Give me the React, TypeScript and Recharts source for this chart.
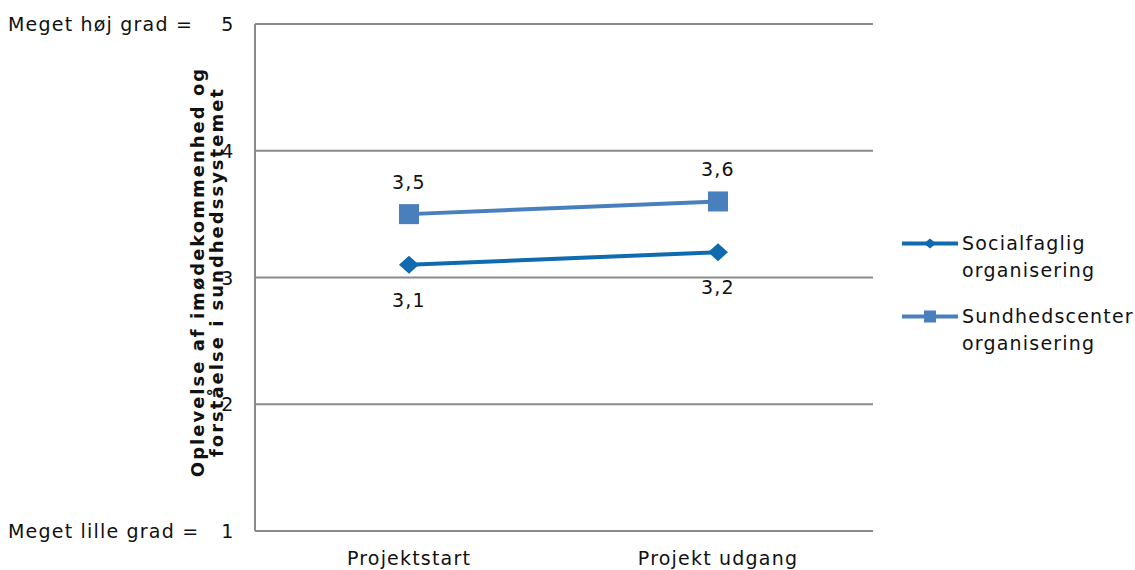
import { LineChart, Line, XAxis, YAxis, CartesianGrid, Legend, LabelList } from "recharts"

const categories = ["Projektstart", "Projekt udgang"]
const socialfaglig = [3.1, 3.2]
const sundhedscenter = [3.5, 3.6]
const yTicks = [1, 2, 3, 4, 5]
const tickPrefix: Record<number, string> = { 5: "Meget høj grad =", 1: "Meget lille grad =" }
const legendLines = [
  ["Socialfaglig", "organisering"],
  ["Sundhedscenter", "organisering"],
]
const axisTitle = ["Oplevelse af imødekommenhed og", "forståelse i sundhedssystemet"]

const data = categories.map((name, i) => ({
  name,
  social: socialfaglig[i],
  sundhed: sundhedscenter[i],
}))

const DARK = "#0F6BAE"
const LIGHT = "#4A7FBE"
const GRID = "#8A8A8A"
const FONT = "'DejaVu Sans', Verdana, sans-serif"
const textStyle = { fontFamily: FONT, fontSize: 19, letterSpacing: 1.2, fill: "#111" }

const fmt = (v: number) => String(v).replace(".", ",")

const YTick = (props: any) => {
  const { y, payload } = props
  const prefix = tickPrefix[payload.value]
  return (
    <g>
      {prefix && (
        <text x={8} y={y} dominantBaseline="central" textAnchor="start" style={textStyle}>
          {prefix}
        </text>
      )}
      <text x={228} y={y} dominantBaseline="central" textAnchor="middle" style={textStyle}>
        {payload.value}
      </text>
    </g>
  )
}

const XTick = (props: any) => {
  const { x, payload } = props
  return (
    <text x={x} y={558} dominantBaseline="central" textAnchor="middle" style={textStyle}>
      {payload.value}
    </text>
  )
}

const Title = () => (
  <text
    transform="rotate(-90, 206, 272)"
    x={206}
    y={272}
    textAnchor="middle"
    style={{ fontFamily: FONT, fontSize: 18, fontWeight: "bold", letterSpacing: 2, fill: "#111" }}
  >
    <tspan x={206} dy={-9} dominantBaseline="central">{axisTitle[0]}</tspan>
    <tspan x={206} dy={19} dominantBaseline="central">{axisTitle[1]}</tspan>
  </text>
)

const Diamond = (props: any) => {
  const { cx, cy } = props
  if (cx == null || cy == null) return <g key={props.index} />
  return (
    <path
      key={props.index}
      d={`M${cx - 10},${cy} L${cx},${cy - 9} L${cx + 10},${cy} L${cx},${cy + 9} Z`}
      fill={DARK}
    />
  )
}

const Square = (props: any) => {
  const { cx, cy } = props
  if (cx == null || cy == null) return <g key={props.index} />
  return <rect key={props.index} x={cx - 10} y={cy - 10} width={20} height={20} fill={LIGHT} />
}

const labelAbove = (props: any) => (
  <text x={props.x} y={props.y - 32} textAnchor="middle" dominantBaseline="central" style={textStyle}>
    {fmt(props.value)}
  </text>
)

const labelBelow = (props: any) => (
  <text x={props.x} y={props.y + 35} textAnchor="middle" dominantBaseline="central" style={textStyle}>
    {fmt(props.value)}
  </text>
)

const LegendContent = () => (
  <div style={{ fontFamily: FONT, fontSize: 19, letterSpacing: 1.2, color: "#111", lineHeight: "27px" }}>
    {legendLines.map((lines, i) => (
      <div key={i} style={{ display: "flex", alignItems: "flex-start", marginBottom: i === 0 ? 19 : 0 }}>
        <svg width={62} height={27} style={{ flex: "none" }}>
          <line x1={2} y1={13.5} x2={58} y2={13.5} stroke={i === 0 ? DARK : LIGHT} strokeWidth={4} />
          {i === 0 ? (
            <path d="M24,13.5 L30,8.5 L36,13.5 L30,18.5 Z" fill={DARK} />
          ) : (
            <rect x={24} y={7.5} width={12} height={12} fill={LIGHT} />
          )}
        </svg>
        <div style={{ whiteSpace: "nowrap" }}>
          {lines.map((l, j) => (
            <div key={j}>{l}</div>
          ))}
        </div>
      </div>
    ))}
  </div>
)

export default function App() {
  return (
    <div style={{ position: "absolute", left: 0, top: 0, width: 1135, height: 570, background: "#fff" }}>
      <LineChart width={1135} height={570} data={data} margin={{ top: 24, right: 262, bottom: 0, left: 0 }}>
        <CartesianGrid horizontal vertical={false} stroke={GRID} strokeWidth={2} />
        <XAxis
          dataKey="name"
          height={39}
          padding={{ left: 154, right: 155 }}
          axisLine={{ stroke: GRID, strokeWidth: 2 }}
          tickLine={false}
          tick={<XTick />}
          interval={0}
        />
        <YAxis
          width={255}
          domain={[1, 5]}
          ticks={yTicks}
          axisLine={{ stroke: GRID, strokeWidth: 2 }}
          tickLine={false}
          tick={<YTick />}
          label={{ content: () => <Title /> }}
        />
        <Legend
          layout="horizontal"
          verticalAlign="middle"
          align="center"
          content={() => <LegendContent />}
          wrapperStyle={{ left: 900, top: 230, width: 235, height: 130 }}
        />
        <Line
          dataKey="social"
          name="Socialfaglig organisering"
          stroke={DARK}
          strokeWidth={4}
          dot={<Diamond />}
          activeDot={false}
          isAnimationActive={false}
        >
          <LabelList dataKey="social" content={labelBelow} />
        </Line>
        <Line
          dataKey="sundhed"
          name="Sundhedscenter organisering"
          stroke={LIGHT}
          strokeWidth={4}
          dot={<Square />}
          activeDot={false}
          isAnimationActive={false}
        >
          <LabelList dataKey="sundhed" content={labelAbove} />
        </Line>
      </LineChart>
    </div>
  )
}
